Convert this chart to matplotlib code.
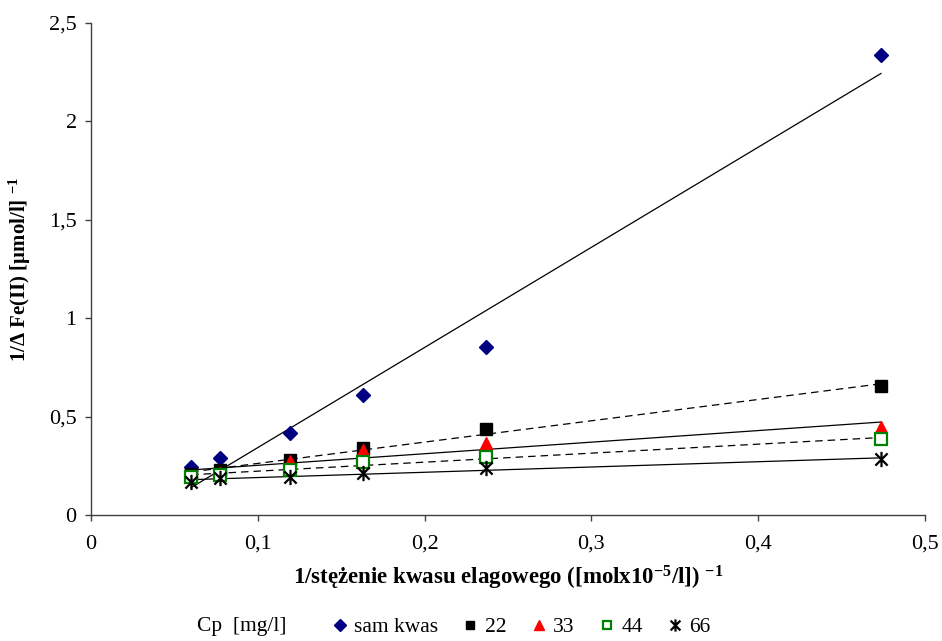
import numpy as np
import matplotlib
matplotlib.use("Agg")
import matplotlib.pyplot as plt
from matplotlib.path import Path
from matplotlib.ticker import FuncFormatter, MultipleLocator

plt.rcParams['font.family'] = ['Liberation Serif', 'DejaVu Serif']
plt.rcParams['mathtext.default'] = 'regular'

# 1 / ellagic acid concentration
x_vals = [0.0600, 0.0775, 0.1193, 0.1630, 0.2368, 0.4736]

# 1 / delta Fe(II) for each Cp series
y_sam = [0.245, 0.291, 0.418, 0.610, 0.852, 2.337]
y_22 = [0.210, 0.229, 0.279, 0.339, 0.435, 0.655]
y_33 = [0.200, 0.212, 0.272, 0.330, 0.364, 0.449]
y_44 = [0.195, 0.203, 0.229, 0.271, 0.296, 0.385]
y_66 = [0.169, 0.186, 0.195, 0.212, 0.237, 0.285]

labels = ['sam kwas', '22', '33', '44', '66']

# asterisk-like star marker: vertical bar plus an X
star = Path([(0, -1), (0, 1), (-0.8, -0.8), (0.8, 0.8), (-0.8, 0.8), (0.8, -0.8)],
            [Path.MOVETO, Path.LINETO, Path.MOVETO, Path.LINETO, Path.MOVETO, Path.LINETO])

styles = [
    dict(marker='D', color='#000080', mfc='#000080', ms=7.5, ls='-'),
    dict(marker='s', color='black', mfc='black', ms=8, ls=(0, (6, 4))),
    dict(marker='^', color='red', mfc='red', ms=9, ls='-'),
    dict(marker='s', color='#008000', mfc='white', ms=8, ls=(0, (6, 4)), mew=1.6),
    dict(marker=star, color='black', mfc='none', ms=11, ls='-', mew=1.6),
]

fig = plt.figure(figsize=(9.42, 6.41), dpi=100)
ax = fig.add_axes([91 / 942, 1 - 515 / 641, (925 - 91) / 942, (515 - 23) / 641])

x = np.array(x_vals)
handles = []
for ys, st, lab in zip([y_sam, y_22, y_33, y_44, y_66], styles, labels):
    ys = np.array(ys)
    k, b = np.polyfit(x, ys, 1)
    xl = np.array([x.min(), x.max()])
    ax.plot(xl, k * xl + b, color='black', lw=0.9, ls=st['ls'], zorder=2)
    h, = ax.plot(x, ys, ls='none', marker=st['marker'], color=st['color'],
                 mfc=st['mfc'], mec=st['color'], ms=st['ms'],
                 mew=st.get('mew', 1.0), label=lab, zorder=3)
    handles.append(h)

ax.set_xlim(0, 0.5)
ax.set_ylim(0, 2.5)
ax.xaxis.set_major_locator(MultipleLocator(0.1))
ax.yaxis.set_major_locator(MultipleLocator(0.5))
fmt = FuncFormatter(lambda v, p: ('%g' % round(v, 2)).replace('.', ','))
ax.xaxis.set_major_formatter(fmt)
ax.yaxis.set_major_formatter(fmt)
for s in ['top', 'right']:
    ax.spines[s].set_visible(False)
for s in ['left', 'bottom']:
    ax.spines[s].set_color('#404040')
    ax.spines[s].set_linewidth(1.0)
ax.tick_params(axis='both', direction='out', length=4.3, width=1.0, color='#404040',
               labelsize=16, pad=6)
ax.tick_params(axis='x', pad=10)

ax.set_xlabel('1/stężenie kwasu elagowego ([molx10$^{-5}$/l]) $^{-1}$',
              fontsize=16.5, fontweight='bold')
ax.set_ylabel('1/Δ Fe(II) [μmol/l] $^{-1}$', fontsize=15, fontweight='bold')
ax.xaxis.set_label_coords(0.5, (515 - 564) / 492)
ax.yaxis.set_label_coords((33 - 91) / 834, 0.5)

fig.text(197 / 942, 1 - 627 / 641, 'Cp  [mg/l]', fontsize=15.5, va='center', ha='left')
fig.legend(handles=handles, labels=labels, loc='center left', ncol=5,
           bbox_to_anchor=(331 / 942, 1 - 627 / 641), frameon=False, fontsize=15.5,
           borderpad=0, borderaxespad=0,
           handlelength=0.8, handletextpad=0.27, columnspacing=1.1, markerscale=0.8)

fig.savefig('out.png', dpi=100)
